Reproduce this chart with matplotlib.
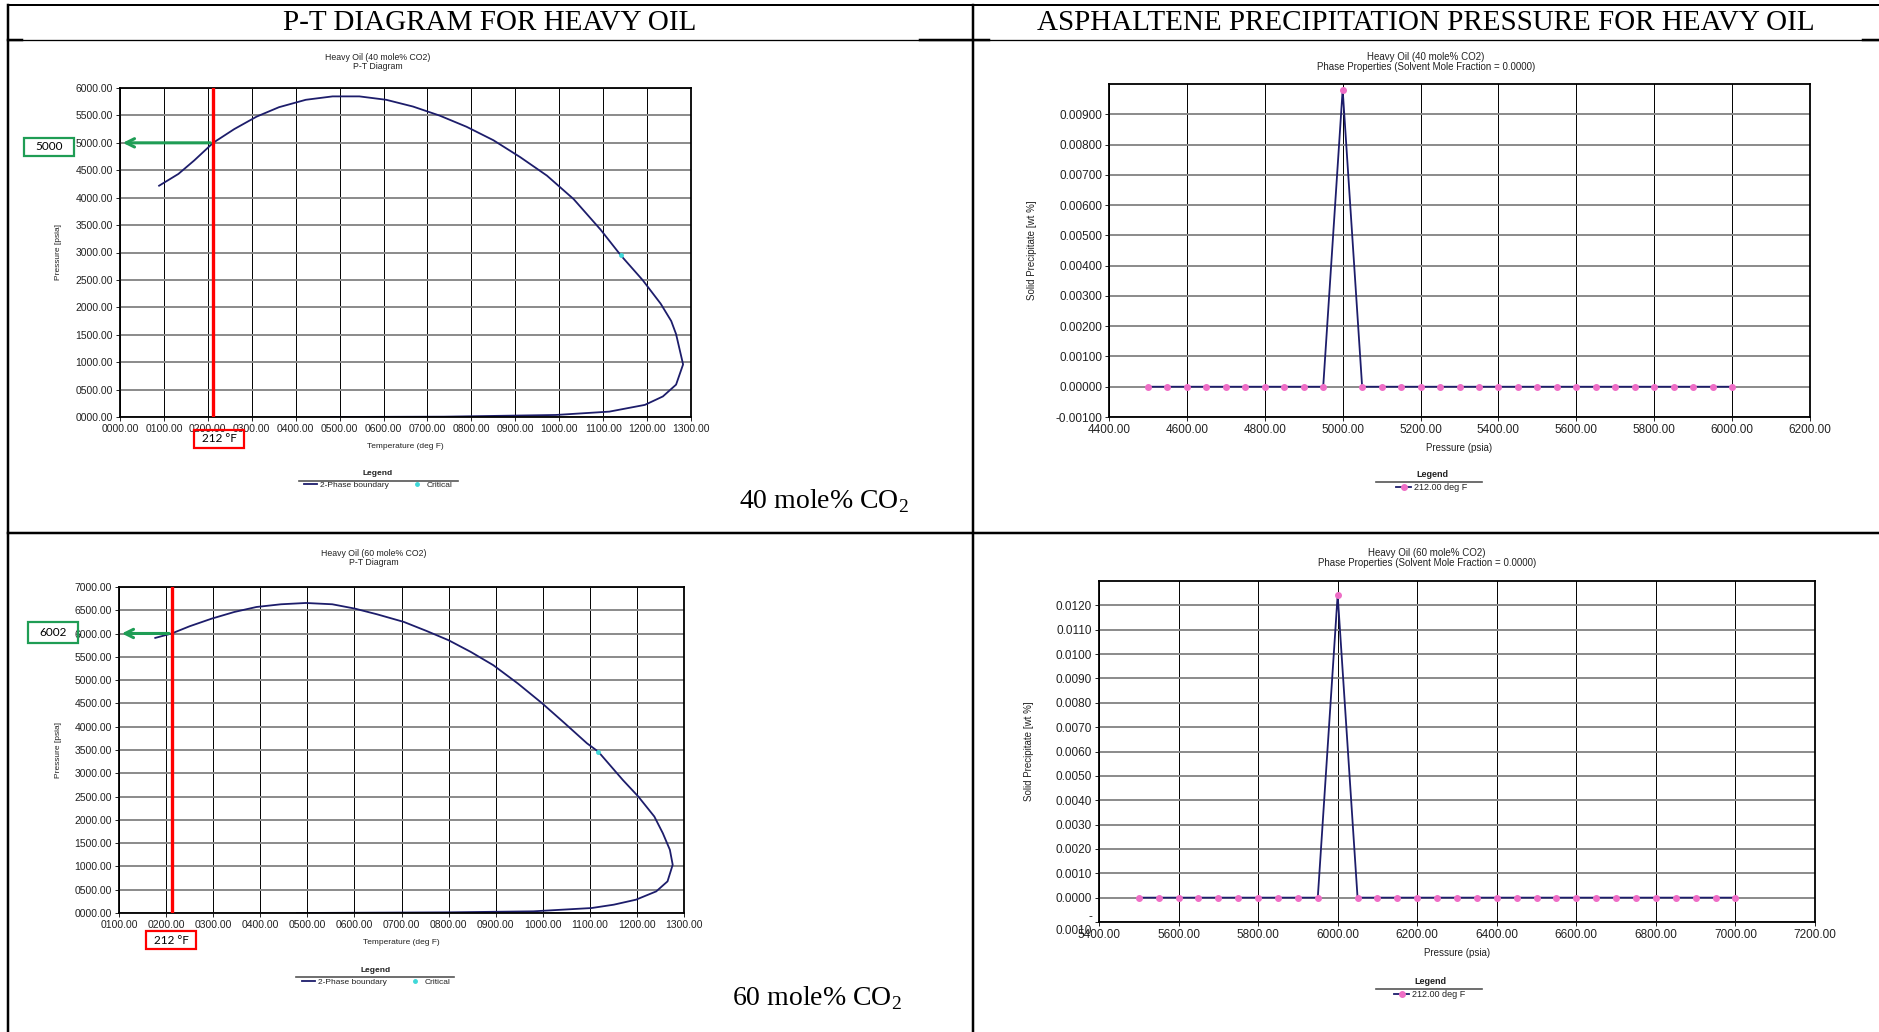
import matplotlib.pyplot as plt
from matplotlib.patches import Rectangle
from matplotlib.ticker import FuncFormatter, MultipleLocator

W, H = 1879, 1032

# phase envelope, heavy oil + 40 mole% CO2 (deg F, psia)
temp40 = [89, 133, 169, 212, 260, 311, 362, 423, 484, 545, 606, 667, 728, 789, 850, 911,
          972, 1033, 1094, 1140, 1190, 1231, 1255, 1266, 1282, 1266, 1236, 1195, 1114, 992,
          738, 480]
pres40 = [4218, 4433, 4679, 5000, 5250, 5478, 5650, 5785, 5847, 5847, 5785, 5662, 5496, 5293,
          5048, 4740, 4402, 3972, 3418, 2950, 2496, 2066, 1750, 1512, 959, 590, 375, 221, 98,
          37, 6, 0]
crit40 = (1140, 2950)

# phase envelope, heavy oil + 60 mole% CO2
temp60 = [177, 212, 250, 297, 345, 392, 444, 497, 553, 601, 648, 705, 753, 800, 847, 895,
          947, 999, 1047, 1094, 1118, 1170, 1203, 1237, 1255, 1270, 1276, 1265, 1241, 1198,
          1151, 1104, 980, 800, 478]
pres60 = [5907, 6002, 6157, 6321, 6464, 6571, 6629, 6657, 6629, 6536, 6414, 6250, 6057, 5857,
          5607, 5321, 4929, 4500, 4071, 3643, 3464, 2857, 2500, 2071, 1714, 1357, 1036, 679,
          464, 286, 179, 107, 36, 14, 0]
crit60 = (1118, 3464)

# solid precipitate at 212 deg F (wt %)
sweep40 = [4500, 4550, 4600, 4650, 4700, 4750, 4800, 4850, 4900, 4950, 5000,
           5050, 5100, 5150, 5200, 5250, 5300, 5350, 5400, 5450, 5500,
           5550, 5600, 5650, 5700, 5750, 5800, 5850, 5900, 5950, 6000]
solid40 = [0.0] * 10 + [0.00981] + [0.0] * 20
sweep60 = [5500, 5550, 5600, 5650, 5700, 5750, 5800, 5850, 5900, 5950, 6000,
           6050, 6100, 6150, 6200, 6250, 6300, 6350, 6400, 6450, 6500,
           6550, 6600, 6650, 6700, 6750, 6800, 6850, 6900, 6950, 7000]
solid60 = [0.0] * 10 + [0.01243] + [0.0] * 20

res_temp = 212
onset40 = 5000
onset60 = 6002

NAVY = '#1d1d6b'
PINK = '#ee6ec6'
CYAN = '#3fd8d8'
GREEN = '#1f9d55'
SANS = 'Liberation Sans'
SERIF = 'Liberation Serif'

fig = plt.figure(figsize=(W / 100, H / 100), dpi=100)


def place(l, t, r, b):
    return fig.add_axes([l / W, 1 - b / H, (r - l) / W, (b - t) / H])


def style(ax, xfmt, yfmt, size):
    ax.set_axisbelow(True)
    ax.grid(axis='y', color='#8a8a8a', lw=1.4)
    ax.grid(axis='x', color='black', lw=0.7)
    for s in ax.spines.values():
        s.set_linewidth(1.3)
        s.set_color('black')
    ax.tick_params(labelsize=size, length=3, width=0.7, pad=2, colors='#222222')
    for lab in ax.get_xticklabels() + ax.get_yticklabels():
        lab.set_family(SANS)
    ax.xaxis.set_major_formatter(FuncFormatter(xfmt))
    ax.yaxis.set_major_formatter(FuncFormatter(yfmt))


def labels(ax, xl, yl, ycoord, xcoord, size):
    ax.set_xlabel(xl, fontsize=size, family=SANS, color='#222222')
    ax.set_ylabel(yl, fontsize=size, family=SANS, color='#222222')
    ax.xaxis.set_label_coords(0.5, xcoord)
    ax.yaxis.set_label_coords(ycoord, 0.5)


pt_fmt = lambda v, pos: f'{v:07.2f}'

# ---- P-T diagrams ----
ax1 = place(120, 88, 691, 417)
b1, = ax1.plot(temp40, pres40, color=NAVY, lw=1.3, label='2-Phase boundary')
c1, = ax1.plot(*crit40, 'o', color=CYAN, ms=2.5, ls='none', label='Critical')
ax1.axvline(res_temp, color='red', lw=2.4, zorder=4)
ax1.set_xlim(0, 1300)
ax1.set_ylim(0, 6000)
ax1.xaxis.set_major_locator(MultipleLocator(100))
ax1.yaxis.set_major_locator(MultipleLocator(500))
style(ax1, pt_fmt, pt_fmt, 7.5)
labels(ax1, 'Temperature (deg F)', 'Pressure [psia]', -0.101, -0.079, 6)
ax1.annotate('', xy=(0, onset40), xytext=(res_temp, onset40), annotation_clip=False,
             arrowprops=dict(arrowstyle='->', color=GREEN, lw=2.2, mutation_scale=15), zorder=5)

ax3 = place(119, 587, 684, 913)
b3, = ax3.plot(temp60, pres60, color=NAVY, lw=1.3, label='2-Phase boundary')
c3, = ax3.plot(*crit60, 'o', color=CYAN, ms=2.5, ls='none', label='Critical')
ax3.axvline(res_temp, color='red', lw=2.4, zorder=4)
ax3.set_xlim(100, 1300)
ax3.set_ylim(0, 7000)
ax3.xaxis.set_major_locator(MultipleLocator(100))
ax3.yaxis.set_major_locator(MultipleLocator(500))
style(ax3, pt_fmt, pt_fmt, 7.5)
labels(ax3, 'Temperature (deg F)', 'Pressure [psia]', -0.101, -0.080, 6)
ax3.annotate('', xy=(100, onset60), xytext=(res_temp, onset60), annotation_clip=False,
             arrowprops=dict(arrowstyle='->', color=GREEN, lw=2.2, mutation_scale=15), zorder=5)

# ---- asphaltene precipitation ----
p_fmt = lambda v, pos: f'{v:.2f}'

ax2 = place(1109, 84, 1810, 417)
s2, = ax2.plot(sweep40, solid40, color=NAVY, lw=1.3, marker='o', ms=4,
               mfc=PINK, mec=PINK, label='212.00 deg F')
ax2.set_xlim(4400, 6200)
ax2.set_ylim(-0.001, 0.0100)
ax2.xaxis.set_major_locator(MultipleLocator(200))
ax2.set_yticks([-0.001, 0, 0.001, 0.002, 0.003, 0.004, 0.005, 0.006, 0.007, 0.008, 0.009])
style(ax2, p_fmt, lambda v, pos: f'{v:.5f}', 8.5)
labels(ax2, 'Pressure (psia)', 'Solid Precipitate [wt %]', -0.103, -0.078, 7)

ax4 = place(1099, 581, 1815, 922)
s4, = ax4.plot(sweep60, solid60, color=NAVY, lw=1.3, marker='o', ms=4,
               mfc=PINK, mec=PINK, label='212.00 deg F')
ax4.set_xlim(5400, 7200)
ax4.set_ylim(-0.001, 0.013)
ax4.xaxis.set_major_locator(MultipleLocator(200))
ax4.set_yticks([-0.001, 0, 0.001, 0.002, 0.003, 0.004, 0.005, 0.006, 0.007, 0.008,
                0.009, 0.010, 0.011, 0.012])
style(ax4, p_fmt, lambda v, pos: '-\n0.0010' if v < -0.0005 else f'{v:.4f}', 8.5)
labels(ax4, 'Pressure (psia)', 'Solid Precipitate [wt %]', -0.091, -0.076, 7)

# ---- table frame, headings and notes (pixel coordinates) ----
ov = fig.add_axes([0, 0, 1, 1])
ov.set_xlim(0, W)
ov.set_ylim(H, 0)
ov.axis('off')

k = 0.72
ov.plot([8, W], [5, 5], color='black', lw=2 * k)
ov.plot([8, 8], [5, H], color='black', lw=2.5 * k)
ov.plot([8, W], [40, 40], color='black', lw=1.3 * k)
for x0, x1 in [(8, 22), (920, 989), (1863, W)]:
    ov.plot([x0, x1], [40, 40], color='black', lw=2.5 * k)
ov.plot([973, 973], [5, H], color='black', lw=2.5 * k)
ov.plot([8, W], [533, 533], color='black', lw=2.5 * k)

ov.text(490, 23, 'P-T DIAGRAM FOR HEAVY OIL', ha='center', va='center',
        family=SERIF, fontsize=21)
ov.text(1426, 23, 'ASPHALTENE PRECIPITATION PRESSURE FOR HEAVY OIL', ha='center',
        va='center', family=SERIF, fontsize=21)
ov.text(824, 501, r'40 mole% CO$_\mathregular{2}$', ha='center', va='center',
        family=SERIF, fontsize=20)
ov.text(817, 998, r'60 mole% CO$_\mathregular{2}$', ha='center', va='center',
        family=SERIF, fontsize=20)

# chart titles
for x, y, t, fs in [(378, 62, 'Heavy Oil (40 mole% CO2)\nP-T Diagram', 6.3),
                    (374, 558, 'Heavy Oil (60 mole% CO2)\nP-T Diagram', 6.3),
                    (1426, 62, 'Heavy Oil (40 mole% CO2)\n'
                     'Phase Properties (Solvent Mole Fraction = 0.0000)', 7),
                    (1427, 558, 'Heavy Oil (60 mole% CO2)\n'
                     'Phase Properties (Solvent Mole Fraction = 0.0000)', 7)]:
    ov.text(x, y, t, ha='center', va='center', family=SANS, fontsize=fs,
            linespacing=1.0, color='#222222')

# callout boxes
for (x0, y0, x1, y1), t, col in [((24, 138, 74, 156), f'{onset40}', GREEN),
                                 ((28, 622, 78, 643), f'{onset60}', GREEN),
                                 ((194, 430, 244, 448), f'{res_temp} °F', 'red'),
                                 ((146, 931, 196, 949), f'{res_temp} °F', 'red')]:
    ov.add_patch(Rectangle((x0, y0), x1 - x0, y1 - y0, fill=False, ec=col, lw=1.6))
    ov.text((x0 + x1) / 2, (y0 + y1) / 2, t, ha='center', va='center',
            family='Lato', fontsize=8.5)

# legends
for ax, handles, cx, top, fs in [(ax1, [b1, c1], 378, 470, 6), (ax3, [b3, c3], 376, 967, 6),
                                 (ax2, [s2], 1432, 470, 6.5), (ax4, [s4], 1430, 977, 6.5)]:
    leg = ax.legend(handles=handles, ncol=len(handles), title='Legend',
                    title_fontproperties={'weight': 'bold', 'size': fs, 'family': SANS},
                    prop={'size': fs, 'family': SANS}, frameon=False, loc='upper center',
                    bbox_to_anchor=(cx, top), bbox_transform=ov.transData,
                    handlelength=1.6, handletextpad=0.4, columnspacing=2.5,
                    borderpad=0, borderaxespad=0)
    leg.get_title().set_color('#222222')
    for t in leg.get_texts():
        t.set_color('#222222')
    leg._legend_box.sep = 3

for x0, x1, y in [(299, 458, 481), (296, 454, 977), (1376, 1482, 482), (1376, 1482, 989)]:
    ov.plot([x0, x1], [y, y], color='#555555', lw=1.2)

fig.savefig('out.png', dpi=100)
